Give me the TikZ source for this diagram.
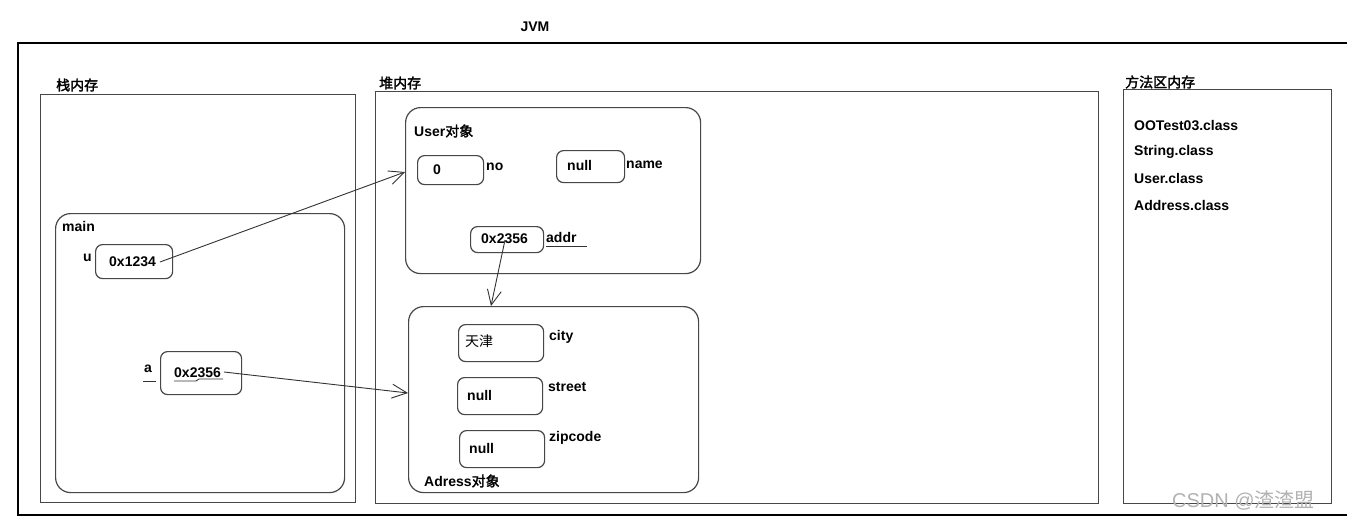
\documentclass[tikz,border=0pt]{standalone}
\usepackage{fontspec}
\setmainfont{Liberation Sans}
\newfontfamily\cjk{Noto Sans CJK SC}[AutoFakeBold=2]
\usetikzlibrary{arrows.meta}
\tikzset{
  ln/.style={draw=black!72, line width=1.2pt},
  region/.style={ln, inner sep=0pt, anchor=north west},
  rbox/.style={region, rounded corners=15pt},
  cell/.style={region, rounded corners=7pt},
  lbl/.style={font=\bfseries\fontsize{14}{16}\selectfont, inner sep=0pt, anchor=west, text=black},
  cn/.style={font=\cjk\fontsize{14}{16}\selectfont, inner sep=0pt, anchor=west, text=black},
  ptr/.style={draw=black!80, line width=0.9pt, -{Straight Barb[length=15pt,width=14pt,line width=0.9pt]}},
  wm/.style={font=\fontsize{20}{22}\selectfont, inner sep=0pt, anchor=west, text=black!30}
}
\begin{document}
\begin{tikzpicture}[x=1pt,y=-1pt]
\useasboundingbox (0,0) rectangle (1347,523);
\fill[white] (0,0) rectangle (1347,523);
% outer JVM frame
\draw[draw=black, line width=1.2pt] (1347,43) -- (18,43) -- (18,515) -- (1347,515);
\node[lbl, anchor=center] (jvm) at (535,27) {JVM};
% regions
\node[region, minimum width=315pt, minimum height=408pt] (stack) at (40,94) {};
\node[region, minimum width=723pt, minimum height=412pt] (heap) at (375,91) {};
\node[region, minimum width=208pt, minimum height=414pt] (method) at (1123,89) {};
\node[lbl] (stackL) at (56,85) {\cjk 栈内存};
\node[lbl] (heapL) at (379,83) {\cjk 堆内存};
\node[lbl] (methodL) at (1125,82) {\cjk 方法区内存};
% main frame
\node[rbox, minimum width=289pt, minimum height=279pt] (main) at (55,213) {};
\node[lbl] (mainL) at (62,226) {main};
\node[cell, minimum width=77pt, minimum height=34pt] (cu) at (95,244) {};
\node[lbl] (uL) at (83,258) {u};
\node[lbl] (uV) at (109,262) {0x1234};
\node[cell, minimum width=81pt, minimum height=43pt] (ca) at (160,351) {};
\node[lbl] (aL) at (144,369) {a};
\node[lbl] (aV) at (174,373) {0x2356};
\draw[draw=black!80, line width=0.9pt] (143,381) -- (156,381);
\draw[draw=black!80, line width=0.9pt] (174,381) -- (196,381) -- (199,379) -- (223,379);
% User object
\node[rbox, minimum width=295pt, minimum height=166pt] (user) at (405,107) {};
\node[lbl] (userL) at (414,131) {User{\cjk 对象}};
\node[cell, minimum width=66pt, minimum height=29pt] (cno) at (417,155) {};
\node[lbl] (noV) at (433,170) {0};
\node[lbl] (noL) at (486,167) {no};
\node[cell, minimum width=68pt, minimum height=32pt] (cname) at (556,150) {};
\node[lbl] (nameV) at (567,165) {null};
\node[lbl] (nameL) at (626,165) {name};
\node[cell, minimum width=73pt, minimum height=26pt] (caddr) at (470,226) {};
\node[lbl] (addrV) at (481,239) {0x2356};
\node[lbl] (addrL) at (546,237) {addr};
\draw[draw=black!80, line width=0.9pt] (546,246) -- (587,246);
% Address object
\node[rbox, minimum width=290pt, minimum height=186pt] (adr) at (408,306) {};
\node[lbl] (adrL) at (424,481) {Adress{\cjk 对象}};
\node[cell, minimum width=85pt, minimum height=37pt] (ccity) at (458,324) {};
\node[cn] (cityV) at (465,341) {天津};
\node[lbl] (cityL) at (549,337) {city};
\node[cell, minimum width=85pt, minimum height=37pt] (cstreet) at (457,377) {};
\node[lbl] (streetV) at (467,395) {null};
\node[lbl] (streetL) at (548,387) {street};
\node[cell, minimum width=85pt, minimum height=37pt] (czip) at (459,430) {};
\node[lbl] (zipV) at (469,448) {null};
\node[lbl] (zipL) at (549,438) {zipcode};
% method area
\node[lbl] (m1) at (1134,126) {OOTest03.class};
\node[lbl] (m2) at (1134,152) {String.class};
\node[lbl] (m3) at (1134,178) {User.class};
\node[lbl] (m4) at (1134,205) {Address.class};
% pointers
\coordinate (uS) at (160,262);
\coordinate (uT) at (405,172);
\coordinate (aS) at (224,372);
\coordinate (aT) at (408,393);
\coordinate (rS) at (505,240);
\coordinate (rT) at (491,306);
\draw[ptr] (uS) -- (uT);
\draw[ptr] (aS) -- (aT);
\draw[ptr] (rS) -- (rT);
% watermark
\node[wm] (wmk) at (1172,500) {CSDN @{\cjk 渣渣盟}};
\end{tikzpicture}
\end{document}
